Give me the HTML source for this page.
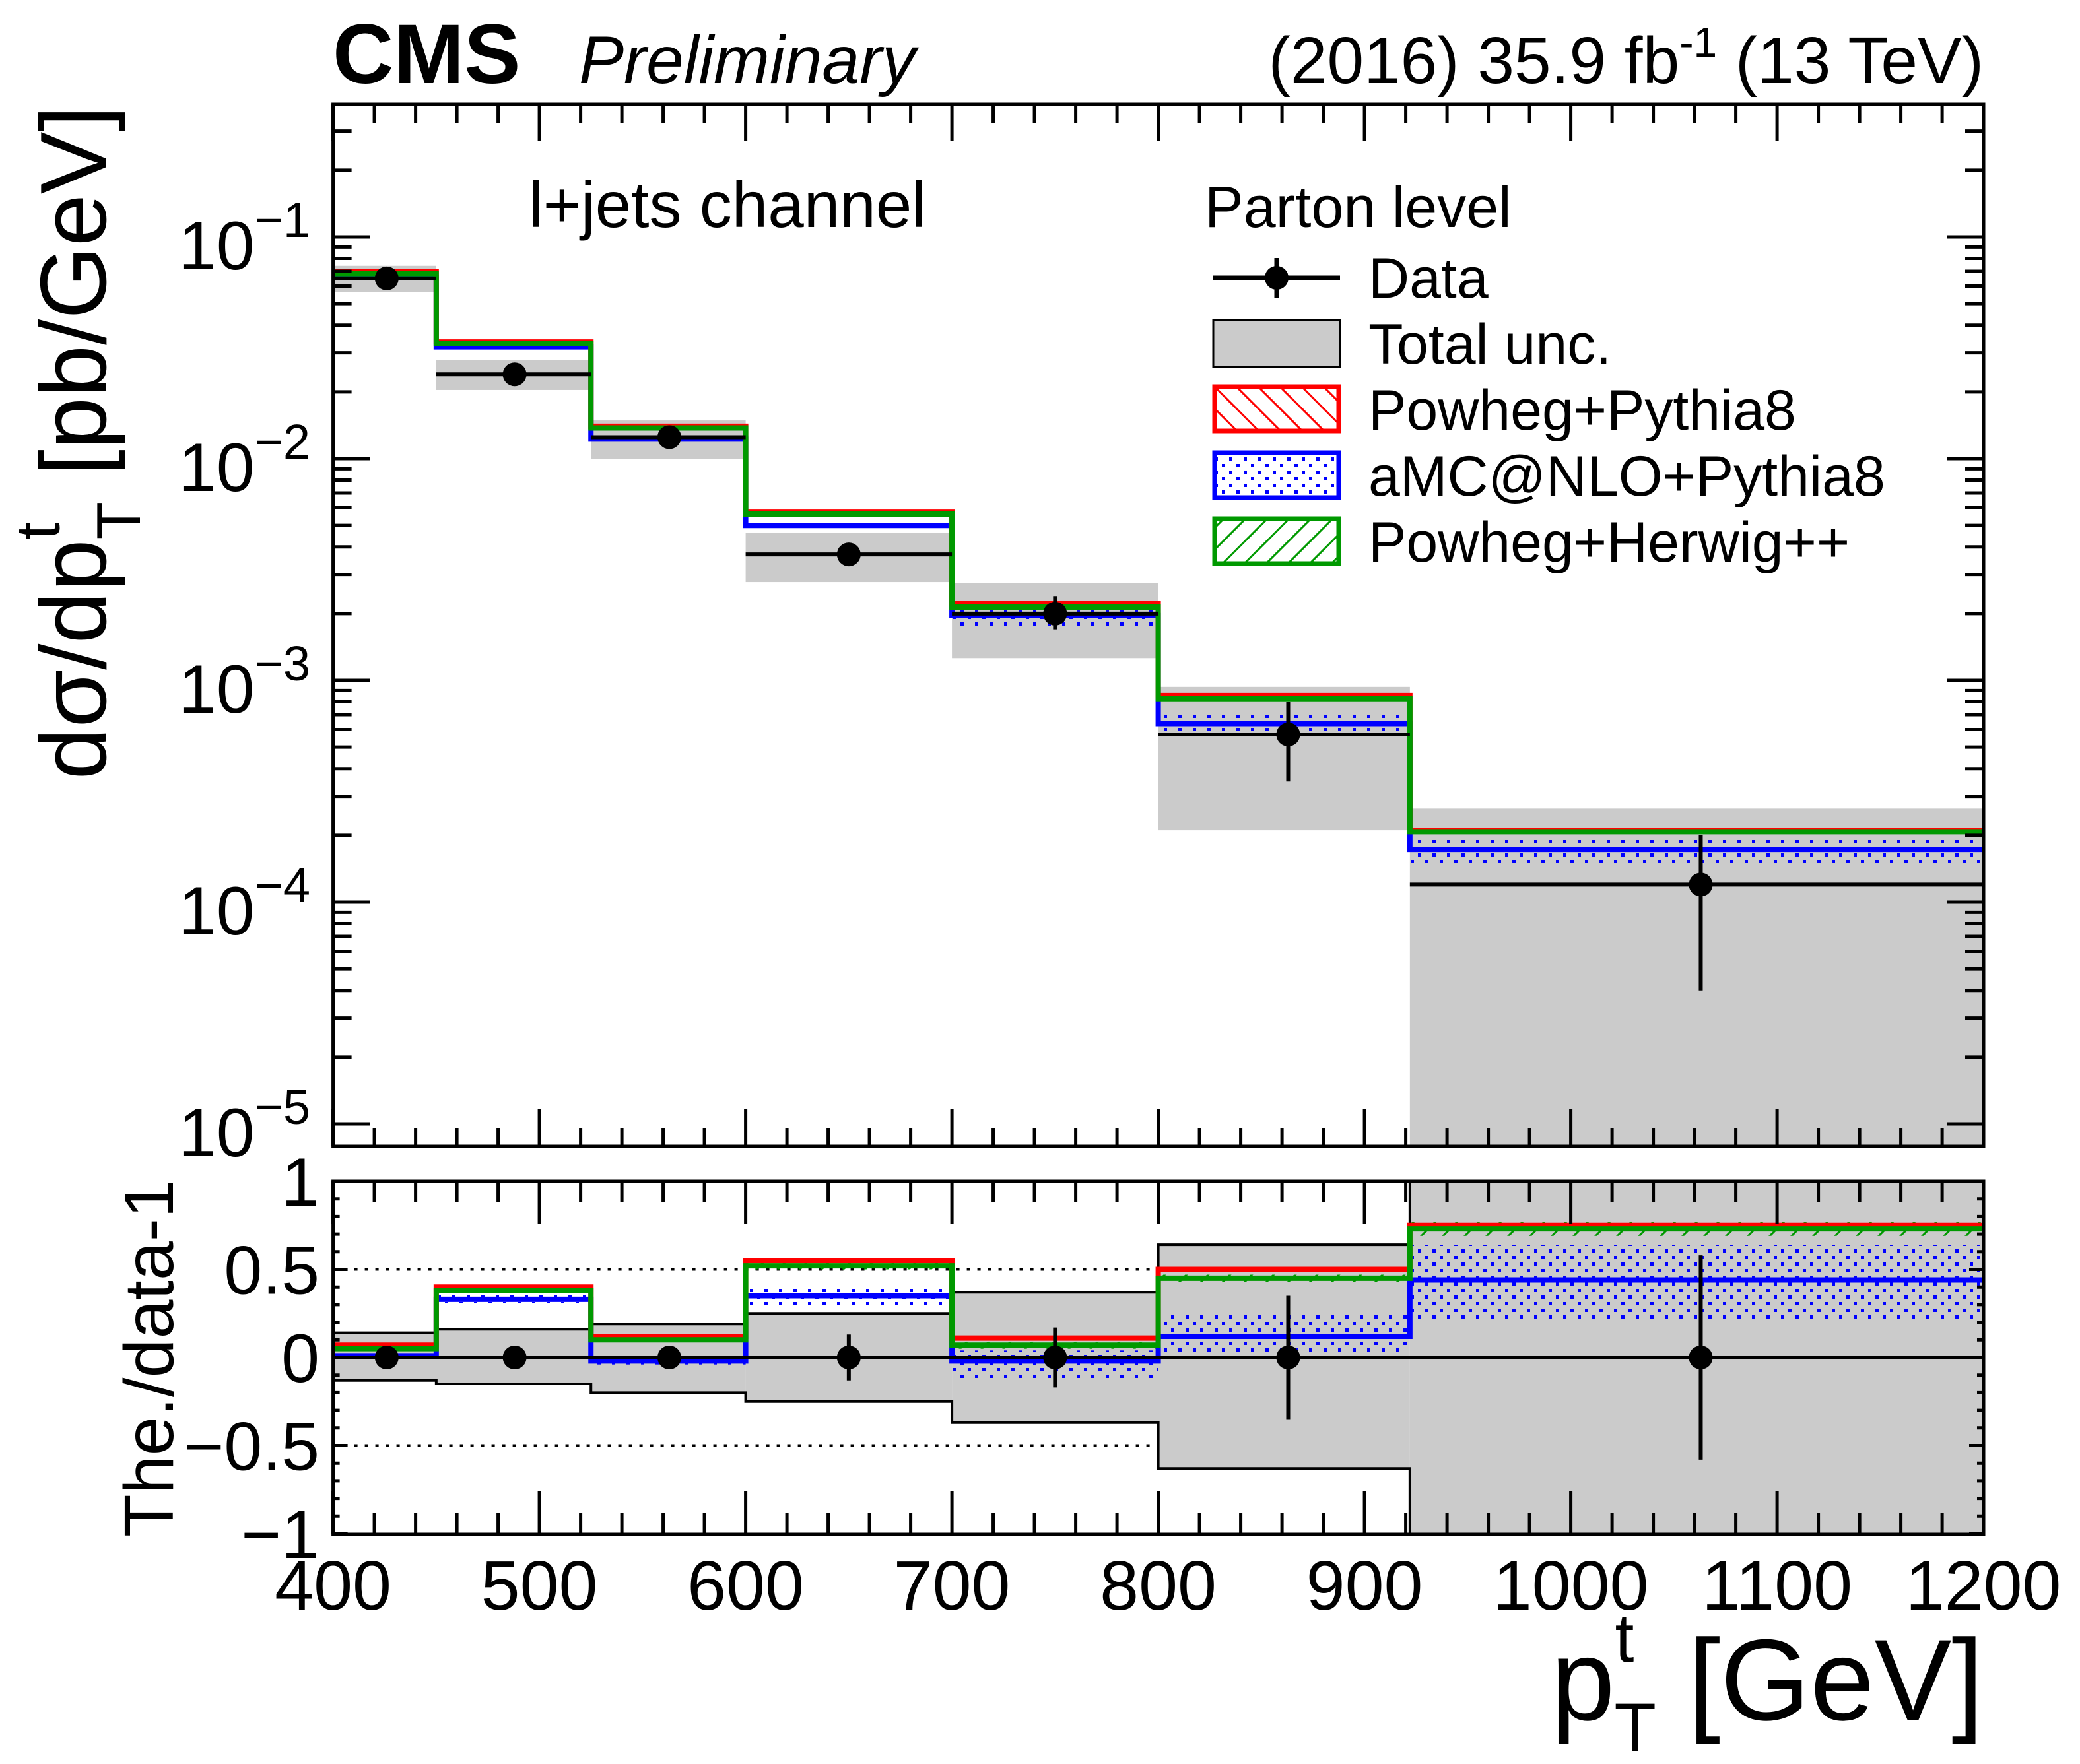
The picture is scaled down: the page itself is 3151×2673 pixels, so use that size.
<!DOCTYPE html>
<html><head><meta charset="utf-8"><style>
html,body{margin:0;padding:0;background:#fff}
svg{display:block}
text{font-family:"Liberation Sans",Arial,sans-serif}
</style></head><body>
<svg id="chart" xmlns="http://www.w3.org/2000/svg" width="3151" height="2673" viewBox="0 0 3151 2673">
<defs>
<pattern id="dots" patternUnits="userSpaceOnUse" width="22" height="20"><rect x="3" y="3" width="5" height="5" fill="#00f"/><rect x="14" y="13" width="5" height="5" fill="#00f"/></pattern>
<pattern id="hatchG" patternUnits="userSpaceOnUse" width="33" height="33"><path d="M-5,38 L38,-5" stroke="#090" stroke-width="3"/><path d="M-5,5 L5,-5 M28,38 L38,28" stroke="#090" stroke-width="3"/></pattern>
<pattern id="hatchR" patternUnits="userSpaceOnUse" width="33" height="33"><path d="M-5,-5 L38,38" stroke="#f00" stroke-width="3"/><path d="M28,-5 L38,5 M-5,28 L5,38" stroke="#f00" stroke-width="3"/></pattern>
<clipPath id="clipU"><rect x="504.6" y="158" width="2500.4" height="1579"/></clipPath>
<clipPath id="clipL"><rect x="504.6" y="1790" width="2500.4" height="535"/></clipPath>
</defs>
<g id="gU" clip-path="url(#clipU)"></g>
<g id="gL" clip-path="url(#clipL)"></g>
<g id="axes"></g>

<text x="504" y="126" font-size="128" font-weight="bold">CMS</text>
<text x="877" y="126" font-size="102" font-style="italic">Preliminary</text>
<text x="3005" y="126" font-size="100" text-anchor="end">(2016) 35.9 fb<tspan dy="-40" font-size="64">-1</tspan><tspan dy="40"> (13 TeV)</tspan></text>
<text x="801" y="344" font-size="98">l+jets channel</text>

<text transform="translate(160,160) rotate(-90)" text-anchor="end" font-size="142">dσ/dp<tspan dy="-70" font-size="94">t</tspan><tspan dy="122" dx="-26" font-size="94">T</tspan><tspan dy="-52"> [pb/GeV]</tspan></text>
<text transform="translate(262,2058) rotate(-90)" text-anchor="middle" font-size="106">The./data-1</text>
<text x="3005" y="2606" font-size="175" text-anchor="end">p<tspan dy="-88" font-size="104">t</tspan><tspan dy="135" dx="-30" font-size="104">T</tspan><tspan dy="-47"> [GeV]</tspan></text>

<g>
<text x="1825" y="344" font-size="88">Parton level</text>
<g>
<line x1="1837" y1="421" x2="2030" y2="421" stroke="#000" stroke-width="7"/><line x1="1934" y1="391" x2="1934" y2="451" stroke="#000" stroke-width="7"/><circle cx="1934" cy="421" r="18"/>
<text x="2073" y="451" font-size="86">Data</text></g>
<g>
<rect x="1838" y="485" width="192" height="71" fill="#cbcbcb" stroke="#000" stroke-width="3"/>
<text x="2073" y="551" font-size="86">Total unc.</text></g>
<g>
<rect x="1840" y="586" width="188" height="67" fill="url(#hatchR)" stroke="#f00" stroke-width="7"/>
<text x="2073" y="651" font-size="86">Powheg+Pythia8</text></g>
<g>
<rect x="1840" y="686" width="188" height="68" fill="url(#dots)" stroke="#00f" stroke-width="7"/>
<text x="2073" y="751" font-size="86">aMC@NLO+Pythia8</text></g>
<g>
<rect x="1840" y="786" width="188" height="68" fill="url(#hatchG)" stroke="#090" stroke-width="7"/>
<text x="2073" y="851" font-size="86">Powheg+Herwig++</text></g>
</g>
</svg>
<script>
const binEdges = [400, 450, 525, 600, 700, 800, 922, 1200];
const pointX = [426, 488, 563, 650, 750, 863, 1063];
const dataValues = [0.065, 0.024, 0.0125, 0.0037, 0.0020, 0.00057, 0.00012];
const dataErrUpper = [0.069, 0.025, 0.013, 0.0040, 0.0024, 0.00080, 0.00020];
const dataErrLowerU = [0.062, 0.023, 0.012, 0.0034, 0.0017, 0.00035, 0.00004];
const totUncUp = [0.14, 0.16, 0.19, 0.25, 0.37, 0.64, 1.2];
const totUncDown = [0.13, 0.15, 0.20, 0.25, 0.37, 0.63, 1.2];
const dataRatioErr = [0.02, 0.04, 0.06, 0.13, 0.17, 0.35, 0.58];
const ratioPowhegPythia = [0.07, 0.40, 0.12, 0.55, 0.11, 0.50, 0.75];
const ratioPowhegHerwig = [0.05, 0.38, 0.10, 0.52, 0.07, 0.45, 0.73];
const ratioAmcnlo = [0.01, 0.33, -0.02, 0.35, -0.02, 0.12, 0.44];
const amcBandLo = [0.00, 0.31, -0.04, 0.29, -0.12, 0.02, 0.22];
const amcBandHi = [0.02, 0.36, 0.00, 0.40, 0.04, 0.24, 0.64];
const herwigBandLo = [0.04, 0.37, 0.09, 0.50, 0.05, 0.43, 0.69];
const herwigBandHi = [0.06, 0.39, 0.11, 0.54, 0.09, 0.47, 0.77];
const xTickLabels = ['400','500','600','700','800','900','1000','1100','1200'];
const yTickExp = ['−1','−2','−3','−4','−5'];
const ratioTickLabels = ['1','0.5','0','−0.5','−1'];
const ratioTickValues = [1, 0.5, 0, -0.5, -1];

const NS='http://www.w3.org/2000/svg';
const X = v => 504.6 + (v - 400) * 3.125;
const Y = v => 359 + (-1 - Math.log10(Math.max(v,1e-7))) * 336;
const R = r => 2057 - r * 267;
const gU=document.getElementById('gU'), gL=document.getElementById('gL'), gA=document.getElementById('axes');
function mk(tag, attrs, parent){const e=document.createElementNS(NS,tag);for(const k in attrs)e.setAttribute(k,attrs[k]);parent.appendChild(e);return e;}

[0.5,-0.5].forEach(r=>{
  const l=mk('line',{x1:X(400),x2:X(922),y1:R(r),y2:R(r),stroke:'#000','stroke-width':4,'stroke-dasharray':'5 11'},gL);
  
  
});

for(let i=0;i<dataValues.length;i++){
  const x0=X(binEdges[i]), x1=X(binEdges[i+1]);
  const hi=dataValues[i]*(1+totUncUp[i]), lo=dataValues[i]*Math.max(1-totUncDown[i],1e-6);
  const r=mk('rect',{x:x0,y:Y(hi),width:x1-x0,height:Y(lo)-Y(hi),fill:'#cbcbcb'},gU);
  
  
  const r2=mk('rect',{x:x0,y:R(totUncUp[i]),width:x1-x0,height:R(-totUncDown[i])-R(totUncUp[i]),fill:'#cbcbcb'},gL);
  
  
}
function stepPath(vals, fy){
  let d='M'+X(binEdges[0])+','+fy(vals[0]);
  for(let i=0;i<vals.length;i++){ if(i>0) d+=' V'+fy(vals[i]); d+=' H'+X(binEdges[i+1]); }
  return d;
}
const o1=mk('path',{d:stepPath(totUncUp,R),fill:'none',stroke:'#000','stroke-width':4},gL);


const o2=mk('path',{d:stepPath(totUncDown.map(v=>-v),R),fill:'none',stroke:'#000','stroke-width':4},gL);



for(let i=0;i<dataValues.length;i++){
  const x0=X(binEdges[i]), w=X(binEdges[i+1])-x0;
  const d=dataValues[i];
  const b=mk('rect',{x:x0,y:Y(d*(1+amcBandHi[i])),width:w,height:Y(d*(1+amcBandLo[i]))-Y(d*(1+amcBandHi[i])),fill:'url(#dots)'},gU);
  
  
  const b2=mk('rect',{x:x0,y:R(amcBandHi[i]),width:w,height:R(amcBandLo[i])-R(amcBandHi[i]),fill:'url(#dots)'},gL);
  
  
  const g2=mk('rect',{x:x0,y:R(herwigBandHi[i]),width:w,height:R(herwigBandLo[i])-R(herwigBandHi[i]),fill:'url(#hatchG)'},gL);
  
  
}

const models=[[ratioAmcnlo,'#00f','amcatnlo'],[ratioPowhegPythia,'#f00','powheg-pythia8'],[ratioPowhegHerwig,'#090','powheg-herwig']];
models.forEach(([rat,col,nm])=>{
  const up=rat.map((r,i)=>dataValues[i]*(1+r));
  const p=mk('path',{d:stepPath(up,Y),fill:'none',stroke:col,'stroke-width':8},gU);
  
  
  const p2=mk('path',{d:stepPath(rat,R),fill:'none',stroke:col,'stroke-width':8},gL);
  
  
});

const zl=mk('line',{x1:X(400),x2:X(1200),y1:R(0),y2:R(0),stroke:'#000','stroke-width':6},gL);


for(let i=0;i<dataValues.length;i++){
  const x0=X(binEdges[i]), x1=X(binEdges[i+1]), cx=X(pointX[i]);
  const g=mk('g',{},gU);
  
  
  mk('line',{x1:x0,x2:x1,y1:Y(dataValues[i]),y2:Y(dataValues[i]),stroke:'#000','stroke-width':6},g);
  mk('line',{x1:cx,x2:cx,y1:Y(dataErrUpper[i]),y2:Y(dataErrLowerU[i]),stroke:'#000','stroke-width':6},g);
  mk('circle',{cx:cx,cy:Y(dataValues[i]),r:18,fill:'#000'},g);
  const g2=mk('g',{},gL);
  
  
  mk('line',{x1:cx,x2:cx,y1:R(dataRatioErr[i]),y2:R(-dataRatioErr[i]),stroke:'#000','stroke-width':6},g2);
  mk('circle',{cx:cx,cy:R(0),r:18,fill:'#000'},g2);
}

const fr=mk('rect',{x:504.6,y:158,width:2500.4,height:1579,fill:'none',stroke:'#000','stroke-width':5},gA);


const fr2=mk('rect',{x:504.6,y:1790,width:2500.4,height:535,fill:'none',stroke:'#000','stroke-width':5},gA);


let tk='';
for(let v=400;v<=1200;v+=20){
  const x=X(v), maj=(v%100===0);
  const lu=maj?56:28, ll=maj?65:32;
  tk+=`M${x},158v${lu}M${x},1737v${-lu}M${x},1790v${ll}M${x},2325v${-ll}`;
}
for(let e=-5;e<=-1;e++){
  for(let m=1;m<=9;m++){
    const v=m*Math.pow(10,e); const y=Y(v); if(y<158||y>1737) continue;
    const l=m===1?56:28; tk+=`M504.6,${y}h${l}M3005,${y}h${-l}`;
  }
}
for(let m=1;m<=3;m++){const y=Y(m*0.1); if(y>=158) tk+=`M504.6,${y}h28M3005,${y}h-28`;}
for(let k=-10;k<=10;k++){
  const y=R(k/10), l=(k%5===0)?22:10;
  tk+=`M504.6,${y}h${l}M3005,${y}h${-l}`;
}
const tp=mk('path',{d:tk,stroke:'#000','stroke-width':5,fill:'none'},gA);



xTickLabels.forEach((s,i)=>{
  const t=mk('text',{x:X(400+100*i),y:2439,'font-size':106,'text-anchor':'middle'},gA);
  t.textContent=s;
  
  
});
yTickExp.forEach((s,i)=>{
  const y=Y(Math.pow(10,-(i+1)));
  const t=mk('text',{x:470,y:y+49,'font-size':104,'text-anchor':'end'},gA);
  
  
  const a=document.createElementNS(NS,'tspan');a.textContent='10';t.appendChild(a);
  const b=document.createElementNS(NS,'tspan');b.setAttribute('dy','-49');b.setAttribute('font-size','74');b.textContent=s;t.appendChild(b);
});
ratioTickLabels.forEach((s,i)=>{
  const t=mk('text',{x:484,y:R(ratioTickValues[i])+37,'font-size':104,'text-anchor':'end'},gA);
  t.textContent=s;
  
  
});
</script>
</body></html>
